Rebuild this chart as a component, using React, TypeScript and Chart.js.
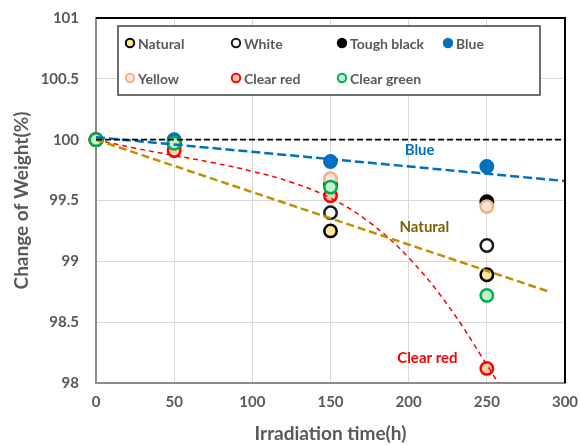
import React, { useEffect, useRef } from 'react';
import { Chart, registerables } from 'chart.js';
Chart.register(...registerables);

// ---- data ----
const hours = [0, 50, 150, 250];
const seriesNames = ['Natural', 'White', 'Tough black', 'Blue', 'Yellow', 'Clear red', 'Clear green'];
const natural = [100, 99.95, 99.25, 98.89];
const white = [100, 99.97, 99.4, 99.13];
const toughBlack = [100, 99.98, 99.63, 99.49];
const blue = [100, 100.0, 99.82, 99.78];
const yellow = [100, 99.94, 99.68, 99.45];
const clearRed = [100, 99.91, 99.54, 98.12];
const clearGreen = [100, 99.97, 99.61, 98.72];

const baselineX = [0, 300];
const baselineY = [100, 100];
const blueTrendX = [0, 300];
const blueTrendY = [100.02, 99.66];
const naturalTrendX = [0, 290];
const naturalTrendY = [100, 98.75];
const redTrendX = [0, 25, 50, 75, 100, 125, 150, 175, 200, 225, 250, 262];
const redTrendY = [100, 99.93, 99.87, 99.81, 99.74, 99.65, 99.52, 99.32, 99.03, 98.64, 98.15, 97.9];

const trendLabels = ['Blue', 'Natural', 'Clear red'];
const trendLabelX = [207, 210, 212];
const trendLabelY = [99.915, 99.28, 98.205];

const xTickValues = [0, 50, 100, 150, 200, 250, 300];
const yTickValues = [98, 98.5, 99, 99.5, 100, 100.5, 101];

// ---- styles ----
const FONT = 'Lato, "Open Sans", sans-serif';
const TXT = '#595959';
const fills = ['#FFE699', '#FFFFFF', '#000000', '#0070C0', '#FBE5D6', '#F8CBAD', '#C6EFCE'];
const strokes = ['#000000', '#1A1A1A', '#000000', '#0070C0', '#F4B183', '#FF0000', '#00B050'];
const trendLabelColors = ['#0070C0', '#7F6000', '#FF0000'];

const pts = (xs: number[], ys: number[]) => xs.map((x, i) => ({ x, y: ys[i] }));

const overlayPlugin = {
  id: 'overlay',
  afterDraw(chart: any) {
    const { ctx, chartArea: ca, scales } = chart;
    ctx.save();
    // top & right frame
    ctx.strokeStyle = '#000';
    ctx.lineWidth = 2;
    ctx.beginPath();
    ctx.moveTo(ca.left, ca.top);
    ctx.lineTo(ca.right, ca.top);
    ctx.lineTo(ca.right, ca.bottom);
    ctx.stroke();

    // trend labels
    ctx.font = `bold 15px ${FONT}`;
    ctx.textAlign = 'center';
    ctx.textBaseline = 'middle';
    trendLabels.forEach((t, i) => {
      ctx.fillStyle = trendLabelColors[i];
      ctx.fillText(t, scales.x.getPixelForValue(trendLabelX[i]), scales.y.getPixelForValue(trendLabelY[i]));
    });

    // legend box
    const bx = ca.left + 22, by = ca.top + 8, bw = 422, bh = 69;
    ctx.fillStyle = '#fff';
    ctx.fillRect(bx, by, bw, bh);
    ctx.strokeStyle = '#404040';
    ctx.lineWidth = 1.5;
    ctx.strokeRect(bx, by, bw, bh);
    ctx.font = `bold 14px ${FONT}`;
    ctx.textAlign = 'left';
    seriesNames.forEach((name, i) => {
      const col = i < 4 ? i : i - 4;
      const row = i < 4 ? 0 : 1;
      const mx = bx + 12 + col * 106;
      const my = by + 17 + row * 35;
      ctx.beginPath();
      ctx.arc(mx, my, 4.2, 0, Math.PI * 2);
      ctx.fillStyle = fills[i];
      ctx.fill();
      ctx.lineWidth = 2;
      ctx.strokeStyle = strokes[i];
      ctx.stroke();
      ctx.fillStyle = TXT;
      ctx.fillText(name, mx + 8, my + 1);
    });
    ctx.restore();
  },
};

export default function App() {
  const ref = useRef<HTMLCanvasElement>(null);
  useEffect(() => {
    const seriesData = [natural, white, toughBlack, blue, yellow, clearRed, clearGreen];
    const markerSets = seriesData.map((vals, i) => ({
      label: seriesNames[i],
      data: pts(hours, vals),
      showLine: false,
      pointRadius: 6.2,
      pointHoverRadius: 6.2,
      pointBackgroundColor: fills[i],
      pointBorderColor: strokes[i],
      pointBorderWidth: 2.5,
      backgroundColor: fills[i],
      borderColor: strokes[i],
      clip: false as any,
      order: 10 - i,
    }));
    const line = (label: string, xs: number[], ys: number[], color: string, width: number, dash: number[], tension = 0) => ({
      label,
      data: pts(xs, ys),
      showLine: true,
      borderColor: color,
      borderWidth: width,
      borderDash: dash,
      pointRadius: 0,
      pointHoverRadius: 0,
      tension,
      cubicInterpolationMode: 'default' as const,
      clip: 0 as any,
      order: 0,
    });
    const chart = new Chart(ref.current!, {
      type: 'scatter',
      data: {
        datasets: [
          ...markerSets,
          line('trend-base', baselineX, baselineY, '#000000', 1.6, [6, 3]),
          line('trend-blue', blueTrendX, blueTrendY, '#0070C0', 2.5, [9, 4]),
          line('trend-natural', naturalTrendX, naturalTrendY, '#BF9000', 2.5, [8, 4]),
          line('trend-red', redTrendX, redTrendY, '#FF0000', 1.5, [5, 4], 0.4),
        ] as any,
      },
      options: {
        animation: false,
        responsive: false,
        events: [],
        layout: { padding: { left: 0, top: 18, right: 15, bottom: 0 } },
        plugins: { legend: { display: false }, tooltip: { enabled: false } },
        scales: {
          x: {
            type: 'linear',
            min: 0,
            max: 300,
            afterFit: (s: any) => {
              s.height = 62;
              s.paddingLeft = 0;
              s.paddingRight = 0;
            },
            afterBuildTicks: (s: any) => { s.ticks = xTickValues.map((v) => ({ value: v })); },
            grid: { color: '#D9D9D9', lineWidth: 1, drawTicks: false },
            border: { color: '#8C8C8C', width: 2 },
            ticks: {
              color: TXT,
              font: { family: FONT, size: 15, weight: 'bold' },
              padding: 10,
              maxRotation: 0,
              callback: (v: any) => String(Number(v)),
            },
            title: {
              display: true,
              text: 'Irradiation time(h)',
              color: TXT,
              font: { family: FONT, size: 19, weight: 'bold' },
              padding: { top: 0, bottom: 0 },
            },
          },
          y: {
            type: 'linear',
            min: 98,
            max: 101,
            afterFit: (s: any) => {
              s.width = 96;
              s.paddingTop = 0;
              s.paddingBottom = 0;
            },
            afterBuildTicks: (s: any) => { s.ticks = yTickValues.map((v) => ({ value: v })); },
            grid: { color: '#D9D9D9', lineWidth: 1, drawTicks: false },
            border: { color: '#8C8C8C', width: 2 },
            ticks: {
              color: TXT,
              font: { family: FONT, size: 15, weight: 'bold' },
              padding: 17,
              callback: (v: any) => String(Number(v)),
            },
            title: {
              display: true,
              text: 'Change of Weight(%)',
              color: TXT,
              font: { family: FONT, size: 19, weight: 'bold' },
              padding: { top: 10, bottom: 0 },
            },
          },
        },
      },
      plugins: [overlayPlugin],
    });
    return () => chart.destroy();
  }, []);
  return (
    <div style={{ position: 'absolute', left: 0, top: 0, width: 580, height: 445 }}>
      <canvas ref={ref} width={580} height={445} style={{ display: 'block' }} />
    </div>
  );
}
